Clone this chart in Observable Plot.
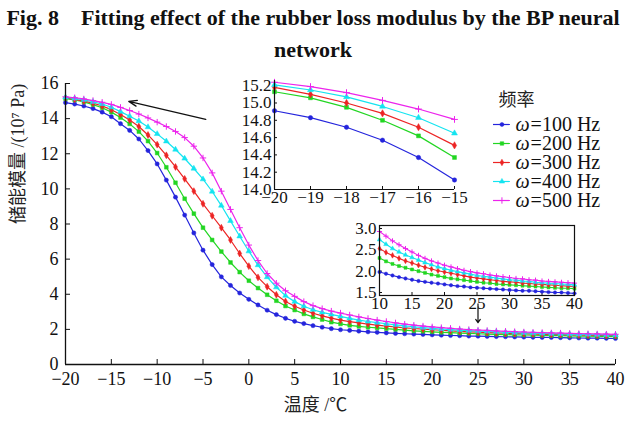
<!DOCTYPE html>
<html>
<head>
<meta charset="utf-8">
<script src="https://cdn.jsdelivr.net/npm/d3@7"></script>
<script src="https://cdn.jsdelivr.net/npm/@observablehq/plot@0.6"></script>
<style>
  body { margin: 0; background: #fff; }
  #wrap { position: relative; width: 626px; height: 424px; overflow: hidden; background: #fff; }
  #title { font: bold 22px "Liberation Serif", "Times New Roman", serif; text-align: center; line-height: 32px; padding-top: 2px; height: 64px; color: #111; white-space: nowrap; }
  .abs { position: absolute; }
  .abs svg, .abs svg text { font-family: "Liberation Serif", "Times New Roman", "Noto Sans CJK SC", serif; }
</style>
</head>
<body>
<div id="wrap">
  <div id="title">Fig. 8&nbsp;&nbsp;&nbsp; Fitting effect of the rubber loss modulus by the BP neural<br>network</div>
  <div id="main" class="abs" style="left:0;top:66px;width:626px"></div>
  <div id="inset1" class="abs" style="left:228px;top:70px;width:232px"></div>
  <div id="inset2" class="abs" style="left:335px;top:215px;width:245px"></div>
  <div id="legend" class="abs" style="left:488px;top:90px;width:136px"></div>
</div>
<script>
// Temperature grid (°C), one sample per degree
const temps = d3.range(-20, 41);

// Storage modulus (10^7 Pa) for each frequency, -20 … 40 °C
const hz100 = [14.91, 14.83, 14.72, 14.57, 14.37, 14.11, 13.71, 13.33, 12.84, 12.18,
  11.42, 10.50, 9.53, 8.51, 7.49, 6.51, 5.69, 4.99, 4.50, 4.07,
  3.71, 3.39, 3.09, 2.84, 2.63, 2.46, 2.33, 2.21, 2.12, 2.04,
  1.98, 1.94, 1.90, 1.86, 1.83, 1.80, 1.77, 1.75, 1.73, 1.71,
  1.69, 1.67, 1.65, 1.64, 1.62, 1.61, 1.60, 1.59, 1.58, 1.57,
  1.56, 1.55, 1.54, 1.54, 1.53, 1.52, 1.51, 1.50, 1.50, 1.49, 1.48];
const hz200 = [15.13, 15.06, 14.95, 14.80, 14.62, 14.37, 14.06, 13.70, 13.26, 12.72,
  12.04, 11.23, 10.35, 9.44, 8.59, 7.79, 7.09, 6.43, 5.81, 5.26,
  4.77, 4.35, 3.97, 3.63, 3.33, 3.10, 2.88, 2.71, 2.56, 2.41,
  2.31, 2.23, 2.17, 2.12, 2.08, 2.04, 2.00, 1.96, 1.92, 1.89,
  1.86, 1.83, 1.81, 1.79, 1.77, 1.75, 1.73, 1.72, 1.70, 1.69,
  1.68, 1.67, 1.66, 1.65, 1.64, 1.63, 1.62, 1.61, 1.60, 1.60, 1.59];
const hz300 = [15.18, 15.10, 15.00, 14.88, 14.72, 14.51, 14.24, 13.92, 13.55, 13.07,
  12.52, 11.91, 11.25, 10.57, 9.87, 9.15, 8.47, 7.79, 7.09, 6.32,
  5.60, 4.96, 4.43, 3.97, 3.59, 3.32, 3.10, 2.92, 2.77, 2.64,
  2.53, 2.44, 2.37, 2.30, 2.24, 2.19, 2.14, 2.09, 2.05, 2.01,
  1.98, 1.95, 1.92, 1.89, 1.86, 1.84, 1.82, 1.80, 1.78, 1.76,
  1.75, 1.74, 1.72, 1.71, 1.70, 1.69, 1.68, 1.67, 1.66, 1.65, 1.64];
const hz400 = [15.21, 15.15, 15.07, 14.96, 14.83, 14.65, 14.40, 14.14, 13.86, 13.52,
  13.13, 12.71, 12.24, 11.73, 11.16, 10.55, 9.85, 9.05, 8.18, 7.30,
  6.45, 5.66, 4.98, 4.40, 3.92, 3.58, 3.32, 3.12, 2.97, 2.85,
  2.74, 2.63, 2.53, 2.45, 2.38, 2.32, 2.26, 2.20, 2.15, 2.10,
  2.06, 2.02, 1.99, 1.96, 1.93, 1.90, 1.88, 1.86, 1.84, 1.82,
  1.80, 1.79, 1.77, 1.76, 1.74, 1.73, 1.72, 1.71, 1.70, 1.69, 1.68];
const hz500 = [15.24, 15.19, 15.12, 15.03, 14.93, 14.81, 14.64, 14.46, 14.26, 14.04,
  13.80, 13.55, 13.27, 12.92, 12.43, 11.76, 10.91, 9.87, 8.83, 7.79,
  6.80, 5.92, 5.18, 4.63, 4.20, 3.88, 3.58, 3.35, 3.18, 3.04,
  2.93, 2.82, 2.71, 2.62, 2.53, 2.45, 2.37, 2.30, 2.24, 2.19,
  2.14, 2.10, 2.06, 2.02, 1.99, 1.96, 1.94, 1.91, 1.89, 1.87,
  1.85, 1.83, 1.82, 1.80, 1.79, 1.77, 1.76, 1.75, 1.74, 1.73, 1.72];

const seriesNames = ["ω=100 Hz", "ω=200 Hz", "ω=300 Hz", "ω=400 Hz", "ω=500 Hz"];
const seriesValues = [hz100, hz200, hz300, hz400, hz500];
const seriesColors = ["#2424dc", "#22d622", "#ec2424", "#14e4f0", "#ec24ec"];
const seriesSymbols = ["circle", "square", "diamond", "triangle", "plus"];

// Tick positions
const mainXTicks = [-20, -15, -10, -5, 0, 5, 10, 15, 20, 25, 30, 35, 40];
const mainYTicks = [0, 2, 4, 6, 8, 10, 12, 14, 16];
const inset1XTicks = [-20, -19, -18, -17, -16, -15];
const inset1YTicks = [14.0, 14.2, 14.4, 14.6, 14.8, 15.0, 15.2];
const inset2XTicks = [10, 15, 20, 25, 30, 35, 40];
const inset2YTicks = [1.5, 2.0, 2.5, 3.0];

// Callout arrows pointing from the zoomed panels to their regions
const calloutLeft = [{x1: -4.7, y1: 13.96, x2: -13.1, y2: 14.98}];
const calloutRight = [{x1: 25, y1: 3.45, x2: 25, y2: 2.38}];

const serif = "Liberation Serif, Times New Roman, Noto Sans CJK SC, serif";
const intFmt = d3.format("d");
const decFmt = d3.format(".1f");

const series = seriesNames.map((name, i) => ({
  name,
  color: seriesColors[i],
  symbol: seriesSymbols[i],
  rows: temps.map((t, j) => ({t, v: seriesValues[i][j]}))
}));

function seriesMarks(filter, r, sw) {
  const marks = [];
  for (const s of series) {
    const rows = s.rows.filter(filter);
    marks.push(Plot.line(rows, {x: "t", y: "v", stroke: s.color, strokeWidth: sw}));
    const isPlus = s.symbol === "plus";
    marks.push(Plot.dot(rows, {
      x: "t", y: "v", symbol: s.symbol, r: isPlus ? r * 1.05 : r,
      fill: isPlus ? "none" : s.color,
      stroke: s.color, strokeWidth: isPlus ? 1 : 0.5
    }));
  }
  return marks;
}

const baseStyle = {fontFamily: serif, fontSize: "17px", background: "transparent", color: "#111", overflow: "visible"};

// Main chart
const main = Plot.plot({
  width: 626, height: 358,
  marginLeft: 65, marginRight: 11, marginTop: 17, marginBottom: 60,
  style: baseStyle,
  x: {domain: [-20, 40]},
  y: {domain: [0, 16]},
  marks: [
    Plot.axisX({ticks: mainXTicks, tickSize: -5, tickPadding: 13, tickFormat: intFmt, label: null, fontSize: 18, fontFamily: serif}),
    Plot.axisY({ticks: mainYTicks, tickSize: -5, tickPadding: 12, tickFormat: intFmt, label: null, fontSize: 18, fontFamily: serif}),
    ...seriesMarks(() => true, 2.1, 1.2),
    Plot.ruleY([0], {stroke: "#111", strokeWidth: 1.3}),
    Plot.ruleX([-20], {stroke: "#111", strokeWidth: 1.3}),
    Plot.arrow(calloutLeft, {x1: "x1", y1: "y1", x2: "x2", y2: "y2", headLength: 10, headAngle: 40, stroke: "#111", strokeWidth: 1.3}),
    Plot.arrow(calloutRight, {x1: "x1", y1: "y1", x2: "x2", y2: "y2", headLength: 5, headAngle: 70, stroke: "#111", strokeWidth: 1.2}),
    Plot.text(["温度 /℃"], {frameAnchor: "bottom", dx: -25, dy: 46, fontSize: 18, fontFamily: serif, fill: "#222"}),
    Plot.text(["储能模量 /(10⁷ Pa)"], {frameAnchor: "left", dx: -47, rotate: -90, fontSize: 18, fontFamily: serif, fill: "#222"})
  ]
});
document.getElementById("main").append(main);

// Zoomed panel: -20 … -15 °C
const inset1 = Plot.plot({
  width: 232, height: 140,
  marginLeft: 46, marginRight: 6, marginTop: 10, marginBottom: 21,
  style: baseStyle,
  x: {domain: [-20, -15]},
  y: {domain: [14, 15.26]},
  marks: [
    Plot.axisX({ticks: inset1XTicks, tickSize: -3, tickPadding: 4, tickFormat: intFmt, label: null, fontSize: 17, fontFamily: serif}),
    Plot.axisY({ticks: inset1YTicks, tickSize: -3, tickPadding: 6, tickFormat: decFmt, label: null, fontSize: 17, fontFamily: serif}),
    ...seriesMarks(d => d.t <= -15, 2.2, 1.2),
    Plot.ruleY([14], {stroke: "#111", strokeWidth: 1.2}),
    Plot.ruleX([-20], {stroke: "#111", strokeWidth: 1.2})
  ]
});
document.getElementById("inset1").append(inset1);

// Zoomed panel: 10 … 40 °C
const inset2 = Plot.plot({
  width: 245, height: 100,
  marginLeft: 44, marginRight: 6, marginTop: 10, marginBottom: 20,
  style: baseStyle,
  x: {domain: [10, 40]},
  y: {domain: [1.43, 3.07]},
  marks: [
    Plot.axisX({ticks: inset2XTicks, tickSize: -3, tickPadding: 4, tickFormat: intFmt, label: null, fontSize: 17, fontFamily: serif}),
    Plot.axisY({ticks: inset2YTicks, tickSize: -3, tickPadding: 6, tickFormat: decFmt, label: null, fontSize: 17, fontFamily: serif}),
    ...seriesMarks(d => d.t >= 10, 1.7, 1.1),
    Plot.frame({stroke: "#111", strokeWidth: 1.2})
  ]
});
document.getElementById("inset2").append(inset2);

// Legend
const legend = Plot.plot({
  width: 136, height: 122,
  marginLeft: 5, marginRight: 1, marginTop: 33, marginBottom: 11,
  style: {...baseStyle, fontSize: "20px"},
  x: {domain: [0, 10], axis: null},
  y: {type: "point", domain: seriesNames, padding: 0, axis: null},
  marks: [
    Plot.text(["频率"], {frameAnchor: "top-left", dx: 5, dy: -30, lineAnchor: "top", textAnchor: "start", fontSize: 18, fontFamily: "Noto Sans CJK SC, sans-serif", fill: "#222"}),
    ...series.flatMap(s => [
      Plot.ruleY([s.name], {y: d => d, x1: () => 0, x2: () => 1.3, stroke: s.color, strokeWidth: 1.2}),
      Plot.dot([s.name], {
        x: () => 0.65, y: d => d, symbol: s.symbol,
        r: s.symbol === "plus" ? 2.2 : 2.0,
        fill: s.symbol === "plus" ? "none" : s.color, stroke: s.color,
        strokeWidth: s.symbol === "plus" ? 1 : 0.5
      })
    ]),
    Plot.text(seriesNames, {x: () => 1.7, y: d => d, text: () => "ω", fontStyle: "italic", textAnchor: "start", fontSize: 20, fontFamily: serif, fill: "#111"}),
    Plot.text(seriesNames, {x: () => 1.7, y: d => d, dx: 15, text: d => d.slice(1), textAnchor: "start", fontSize: 20, fontFamily: serif, fill: "#111"})
  ]
});
document.getElementById("legend").append(legend);
</script>
</body>
</html>
